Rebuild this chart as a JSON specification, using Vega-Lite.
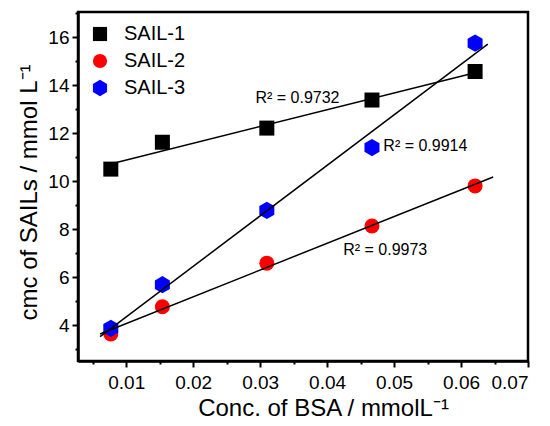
{
  "$schema": "https://vega.github.io/schema/vega-lite/v6.json",
  "width": 450,
  "height": 349,
  "autosize": {"type": "none"},
  "padding": {"left": 78, "top": 12, "right": 22, "bottom": 65},
  "background": "white",
  "config": {
    "font": "Liberation Sans",
    "view": {"stroke": "black", "strokeWidth": 2.5},
    "axis": {"grid": false, "domainColor": "black", "domainWidth": 2.5, "tickColor": "black", "tickWidth": 2, "labelColor": "black", "titleColor": "black", "labelFont": "Liberation Sans", "titleFont": "Liberation Sans", "titleFontWeight": "normal", "labelFontSize": 19, "titleFontSize": 24}
  },
  "datasets": {
    "pts": [
      {"series": "SAIL-1", "x": 0.0077, "y": 10.5},
      {"series": "SAIL-1", "x": 0.0154, "y": 11.62},
      {"series": "SAIL-1", "x": 0.031, "y": 12.21},
      {"series": "SAIL-1", "x": 0.0467, "y": 13.38},
      {"series": "SAIL-1", "x": 0.0621, "y": 14.57},
      {"series": "SAIL-2", "x": 0.0077, "y": 3.63},
      {"series": "SAIL-2", "x": 0.0154, "y": 4.76},
      {"series": "SAIL-2", "x": 0.031, "y": 6.58},
      {"series": "SAIL-2", "x": 0.0467, "y": 8.13},
      {"series": "SAIL-2", "x": 0.0621, "y": 9.8},
      {"series": "SAIL-3", "x": 0.0077, "y": 3.86},
      {"series": "SAIL-3", "x": 0.0154, "y": 5.68},
      {"series": "SAIL-3", "x": 0.031, "y": 8.78},
      {"series": "SAIL-3", "x": 0.0467, "y": 11.4},
      {"series": "SAIL-3", "x": 0.0621, "y": 15.75}
    ],
    "notes": [
      {"label": "R² = 0.9732", "x": 0.0293, "y": 13.46},
      {"label": "R² = 0.9914", "x": 0.0484, "y": 11.47},
      {"label": "R² = 0.9973", "x": 0.0424, "y": 7.11}
    ]
  },
  "data": {"name": "pts"},
  "encoding": {
    "x": {
      "field": "x", "type": "quantitative",
      "scale": {"domain": [0.0028, 0.07], "nice": false, "zero": false},
      "axis": {
        "title": "Conc. of BSA / mmolL⁻¹",
        "values": [0.005, 0.01, 0.015, 0.02, 0.025, 0.03, 0.035, 0.04, 0.045, 0.05, 0.055, 0.06, 0.065, 0.07],
        "labelExpr": "round(datum.value*1000) % 10 == 0 ? format(datum.value, '.2f') : ''",
        "tickSize": {"condition": {"test": "round(datum.value*1000) % 10 != 0", "value": 3}, "value": 6},
        "labelFontSize": 19,
        "labelPadding": 6,
        "titlePadding": 4,
        "titleX": 245
      }
    },
    "y": {
      "field": "y", "type": "quantitative",
      "scale": {"domain": [2.5, 17.05], "nice": false, "zero": false},
      "axis": {
        "title": "cmc of SAILs / mmol L⁻¹",
        "values": [3, 4, 5, 6, 7, 8, 9, 10, 11, 12, 13, 14, 15, 16, 17],
        "labelExpr": "datum.value % 2 == 0 ? datum.value : ''",
        "tickSize": {"condition": {"test": "datum.value % 2 != 0", "value": 3}, "value": 6},
        "labelFontSize": 19,
        "labelPadding": 3,
        "titlePadding": 6,
        "titleY": 180
      }
    }
  },
  "layer": [
    {
      "mark": {"type": "point", "filled": true, "opacity": 1, "size": 225},
      "encoding": {
        "color": {"field": "series", "type": "nominal", "scale": {"domain": ["SAIL-1", "SAIL-2", "SAIL-3"], "range": ["#000000", "#ff0000", "#0000ff"]},
          "legend": {"title": null, "orient": "none", "legendX": 12, "legendY": 12, "padding": 0, "symbolSize": 200, "symbolOpacity": 1, "symbolStrokeWidth": 0, "labelFontSize": 20, "labelFont": "Liberation Sans", "labelColor": "black", "labelOffset": 14, "rowPadding": 7}
        },
        "shape": {"field": "series", "type": "nominal", "scale": {"domain": ["SAIL-1", "SAIL-2", "SAIL-3"], "range": ["square", "circle", "M0,-1.15L1,-0.575L1,0.575L0,1.15L-1,0.575L-1,-0.575Z"]},
          "legend": {"title": null, "orient": "none", "legendX": 12, "legendY": 12, "padding": 0, "symbolSize": 200, "symbolOpacity": 1, "symbolStrokeWidth": 0, "labelFontSize": 20, "labelFont": "Liberation Sans", "labelColor": "black", "labelOffset": 14, "rowPadding": 7}
        }
      }
    },
    {
      "transform": [{"filter": "datum.series == 'SAIL-1'"}, {"regression": "y", "on": "x", "extent": [0.0078, 0.0612]}],
      "mark": {"type": "line", "color": "black", "strokeWidth": 1.5},
      "encoding": {}
    },
    {
      "transform": [{"filter": "datum.series == 'SAIL-2'"}, {"regression": "y", "on": "x", "extent": [0.0061, 0.0648]}],
      "mark": {"type": "line", "color": "black", "strokeWidth": 1.5},
      "encoding": {}
    },
    {
      "transform": [{"filter": "datum.series == 'SAIL-3'"}, {"regression": "y", "on": "x", "extent": [0.0061, 0.064]}],
      "mark": {"type": "line", "color": "black", "strokeWidth": 1.5},
      "encoding": {}
    },
    {
      "data": {"name": "notes"},
      "mark": {"type": "text", "align": "left", "baseline": "middle", "fontSize": 16, "font": "Liberation Sans", "color": "black"},
      "encoding": {"text": {"field": "label"}}
    }
  ]
}
